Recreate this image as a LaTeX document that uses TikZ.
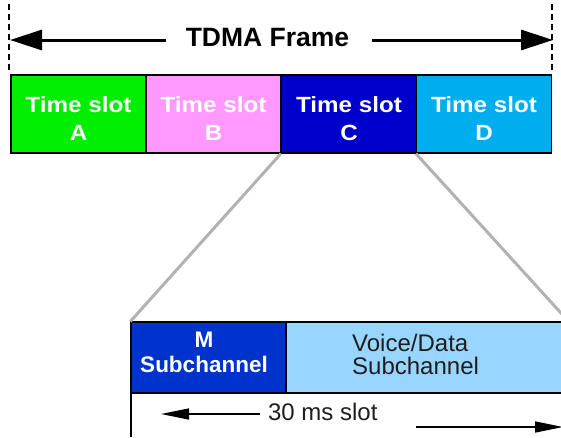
\documentclass[tikz,border=0pt]{standalone}
\usepackage{fontspec}
\setmainfont{Liberation Sans}
\newfontfamily\widefont[FakeStretch=1.1]{Liberation Sans}
\usetikzlibrary{arrows.meta}

\definecolor{slotA}{RGB}{0,238,0}
\definecolor{slotB}{RGB}{255,153,255}
\definecolor{slotC}{RGB}{0,0,204}
\definecolor{slotD}{RGB}{0,174,239}
\definecolor{msub}{RGB}{0,51,204}
\definecolor{vsub}{RGB}{153,214,255}
\definecolor{zoomgrey}{RGB}{178,178,178}
\definecolor{darktext}{RGB}{30,30,30}

\begin{document}
\begin{tikzpicture}[x=1pt,y=-1pt,
  slotbox/.style={draw=black, line width=1.2pt, minimum width=135pt,
    minimum height=78pt, inner sep=0pt},
  slottext/.style={text=white, inner sep=0pt, align=center,
    font=\widefont\bfseries\fontsize{22}{28}\selectfont},
  bigarrow/.style={line width=3pt, -{Triangle[length=32pt,width=20pt]}},
  smallarrow/.style={line width=1.5pt, -{Triangle[length=28pt,width=11pt]}},
  guide/.style={line width=1.4pt, dash pattern=on 6pt off 4pt},
  zoomline/.style={draw=zoomgrey, line width=3pt}]

\useasboundingbox (0,0) rectangle (561,437);
\clip (0,0) rectangle (561,437);

% frame extent markers
\coordinate (gl1) at (9,4);   \coordinate (gl2) at (9,73);
\coordinate (gr1) at (552,4); \coordinate (gr2) at (552,73);
\draw[guide] (gl1) -- (gl2);
\draw[guide] (gr1) -- (gr2);

% frame title with its arrows
\node[inner sep=0pt, anchor=base,
  font=\bfseries\fontsize{26.5}{30}\selectfont] (title) at (267.5,46) {TDMA Frame};
\coordinate (la0) at (166,40); \coordinate (la1) at (10,40);
\coordinate (ra0) at (372,40); \coordinate (ra1) at (553,40);
\draw[bigarrow] (la0) -- (la1);
\draw[bigarrow] (ra0) -- (ra1);

% the four time slots
\node[slotbox, fill=slotA] (A) at (78.5,114) {};
\node[slotbox, fill=slotB] (B) at (213.5,114) {};
\node[slotbox, fill=slotC] (C) at (349,114) {};
\node[slotbox, fill=slotD] (D) at (484,114) {};
\node[slottext] (tA) at (78.5,118.2) {Time slot\\A};
\node[slottext] (tB) at (213.5,118.2) {Time slot\\B};
\node[slottext] (tC) at (349,118.2) {Time slot\\C};
\node[slottext] (tD) at (484,118.2) {Time slot\\D};

% expanded view of slot C
\node[draw=black, line width=1.2pt, fill=msub, inner sep=0pt,
  minimum width=155pt, minimum height=71pt] (M) at (208.5,357.5) {};
\node[draw=black, line width=1.2pt, fill=vsub, inner sep=0pt,
  minimum width=282pt, minimum height=71pt] (V) at (427,357.5) {};
\node[text=white, inner sep=0pt, align=center,
  font=\bfseries\fontsize{22.5}{25}\selectfont] (tM) at (204,352.8) {M\\Subchannel};
\node[text=darktext, inner sep=0pt, align=left, anchor=west,
  font=\fontsize{24}{23.3}\selectfont] (tV) at (352,354.6) {Voice/Data\\Subchannel};

\draw[zoomline] (C.south west) -- (M.north west);
\draw[zoomline] (D.south west) -- (V.north east);

% slot duration
\coordinate (sl0) at (131,393); \coordinate (sl1) at (131,437);
\draw[line width=1.2pt] (sl0) -- (sl1);
\node[text=darktext, inner sep=0pt, anchor=base,
  font=\fontsize{24}{28}\selectfont] (dur) at (322.8,420) {30 ms slot};
\coordinate (da0) at (260,414); \coordinate (da1) at (161,414);
\coordinate (db0) at (416,427); \coordinate (db1) at (563,427);
\draw[smallarrow] (da0) -- (da1);
\draw[smallarrow] (db0) -- (db1);
\end{tikzpicture}
\end{document}
